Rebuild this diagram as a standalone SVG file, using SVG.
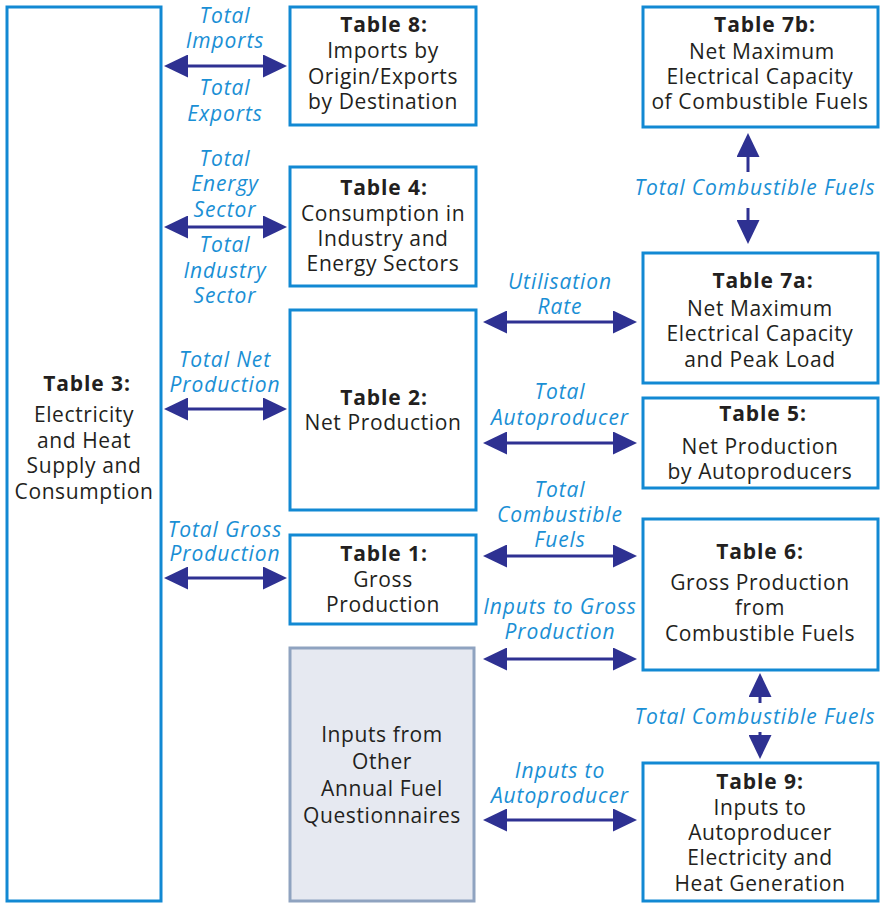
<svg xmlns="http://www.w3.org/2000/svg" width="886" height="903" viewBox="0 0 886 903">
  <defs>
    <marker id="head" markerUnits="userSpaceOnUse" markerWidth="24" markerHeight="23" refX="14" refY="11.5" orient="auto-start-reverse" viewBox="0 0 24 23">
      <path d="M0,0 L24,11.5 L0,23 Z" fill="#2e3192"/>
    </marker>
  </defs>
  <style>
    .box { fill: #ffffff; stroke: #1289d3; stroke-width: 3; }
    .src { fill: #e6e9f1; stroke: #8fa3c0; stroke-width: 3; }
    .t { font-family: "Open Sans", "Noto Sans", "Liberation Sans", sans-serif; font-size: 21px; letter-spacing: 0.6px; fill: #231f20; text-anchor: middle; }
    .b { font-weight: 700; letter-spacing: 0.9px; }
    .lab { font-family: "Open Sans", "Noto Sans", "Liberation Sans", sans-serif; font-size: 21px; letter-spacing: 0.9px; font-style: italic; fill: #1a8fd5; text-anchor: middle; }
    .arr { stroke: #2e3192; stroke-width: 3; fill: none; marker-start: url(#head); marker-end: url(#head); }
    .one { stroke: #2e3192; stroke-width: 3; fill: none; marker-end: url(#head); }
  </style>
  <rect width="886" height="903" fill="#ffffff"/>

  <g id="table3">
    <rect class="box" x="7" y="7" width="154" height="894"/>
    <text class="t b" x="87" y="391">Table 3:</text>
    <text class="t" x="84" y="422">Electricity</text>
    <text class="t" x="84" y="448">and Heat</text>
    <text class="t" x="84" y="473">Supply and</text>
    <text class="t" x="84" y="499">Consumption</text>
  </g>

  <g id="table8">
    <rect class="box" x="290" y="7" width="186" height="118"/>
    <text class="t b" x="384" y="32">Table 8:</text>
    <text class="t" x="383" y="58">Imports by</text>
    <text class="t" x="383" y="84">Origin/Exports</text>
    <text class="t" x="383" y="109">by Destination</text>
  </g>

  <g id="table4">
    <rect class="box" x="290" y="167" width="186" height="119"/>
    <text class="t b" x="384" y="195">Table 4:</text>
    <text class="t" x="383" y="221">Consumption in</text>
    <text class="t" x="383" y="246">Industry and</text>
    <text class="t" x="383" y="271">Energy Sectors</text>
  </g>

  <g id="table2">
    <rect class="box" x="290" y="310" width="186" height="200"/>
    <text class="t b" x="384" y="405">Table 2:</text>
    <text class="t" x="383" y="430">Net Production</text>
  </g>

  <g id="table1">
    <rect class="box" x="290" y="535" width="186" height="89"/>
    <text class="t b" x="384" y="561">Table 1:</text>
    <text class="t" x="383" y="587">Gross</text>
    <text class="t" x="383" y="612">Production</text>
  </g>

  <g id="inputs">
    <rect class="src" x="290" y="648" width="184" height="253"/>
    <text class="t" x="382" y="742">Inputs from</text>
    <text class="t" x="382" y="769">Other</text>
    <text class="t" x="382" y="796">Annual Fuel</text>
    <text class="t" x="382" y="823">Questionnaires</text>
  </g>

  <g id="table7b">
    <rect class="box" x="643" y="7" width="235" height="120"/>
    <text class="t b" x="765" y="32">Table 7b:</text>
    <text class="t" x="762" y="59">Net Maximum</text>
    <text class="t" x="760" y="84">Electrical Capacity</text>
    <text class="t" x="760" y="109">of Combustible Fuels</text>
  </g>

  <g id="table7a">
    <rect class="box" x="643" y="253" width="235" height="130"/>
    <text class="t b" x="763" y="288">Table 7a:</text>
    <text class="t" x="760" y="316">Net Maximum</text>
    <text class="t" x="760" y="341">Electrical Capacity</text>
    <text class="t" x="760" y="367">and Peak Load</text>
  </g>

  <g id="table5">
    <rect class="box" x="643" y="398" width="235" height="90"/>
    <text class="t b" x="763" y="421">Table 5:</text>
    <text class="t" x="760" y="454">Net Production</text>
    <text class="t" x="760" y="479">by Autoproducers</text>
  </g>

  <g id="table6">
    <rect class="box" x="643" y="519" width="235" height="151"/>
    <text class="t b" x="760" y="559">Table 6:</text>
    <text class="t" x="760" y="590">Gross Production</text>
    <text class="t" x="760" y="615">from</text>
    <text class="t" x="760" y="641">Combustible Fuels</text>
  </g>

  <g id="table9">
    <rect class="box" x="643" y="763" width="235" height="138"/>
    <text class="t b" x="760" y="789">Table 9:</text>
    <text class="t" x="760" y="815">Inputs to</text>
    <text class="t" x="760" y="840">Autoproducer</text>
    <text class="t" x="760" y="865">Electricity and</text>
    <text class="t" x="760" y="891">Heat Generation</text>
  </g>

  <g id="connectors">
    <!-- left column links to Table 3 -->
    <line class="arr" x1="174" y1="66" x2="277" y2="66"/>
    <line class="arr" x1="174" y1="227" x2="277" y2="227"/>
    <line class="arr" x1="174" y1="409" x2="277" y2="409"/>
    <line class="arr" x1="174" y1="578" x2="277" y2="578"/>
    <!-- middle to right column -->
    <line class="arr" x1="493" y1="322" x2="627" y2="322"/>
    <line class="arr" x1="493" y1="443" x2="627" y2="443"/>
    <line class="arr" x1="493" y1="556" x2="627" y2="556"/>
    <line class="arr" x1="493" y1="659" x2="627" y2="659"/>
    <line class="arr" x1="493" y1="820" x2="627" y2="820"/>
    <!-- vertical split arrows -->
    <line class="one" x1="748" y1="172" x2="748" y2="143"/>
    <line class="one" x1="748" y1="208" x2="748" y2="234"/>
    <line class="one" x1="760" y1="703" x2="760" y2="683"/>
    <line class="one" x1="760" y1="732" x2="760" y2="749"/>

    <!-- connector labels -->
    <text class="lab" x="225" y="23">Total</text>
    <text class="lab" x="225" y="48">Imports</text>
    <text class="lab" x="225" y="95">Total</text>
    <text class="lab" x="225" y="121">Exports</text>

    <text class="lab" x="225" y="166">Total</text>
    <text class="lab" x="225" y="191">Energy</text>
    <text class="lab" x="225" y="217">Sector</text>
    <text class="lab" x="225" y="252">Total</text>
    <text class="lab" x="225" y="278">Industry</text>
    <text class="lab" x="225" y="303">Sector</text>

    <text class="lab" x="225" y="367">Total Net</text>
    <text class="lab" x="225" y="392">Production</text>

    <text class="lab" x="225" y="537">Total Gross</text>
    <text class="lab" x="225" y="561">Production</text>

    <text class="lab" x="560" y="289">Utilisation</text>
    <text class="lab" x="560" y="314">Rate</text>

    <text class="lab" x="560" y="399">Total</text>
    <text class="lab" x="560" y="425">Autoproducer</text>

    <text class="lab" x="560" y="497">Total</text>
    <text class="lab" x="560" y="522">Combustible</text>
    <text class="lab" x="560" y="547">Fuels</text>

    <text class="lab" x="560" y="614">Inputs to Gross</text>
    <text class="lab" x="560" y="639">Production</text>

    <text class="lab" x="560" y="778">Inputs to</text>
    <text class="lab" x="560" y="803">Autoproducer</text>

    <text class="lab" x="755" y="195">Total Combustible Fuels</text>
    <text class="lab" x="755" y="724">Total Combustible Fuels</text>
  </g>
</svg>
